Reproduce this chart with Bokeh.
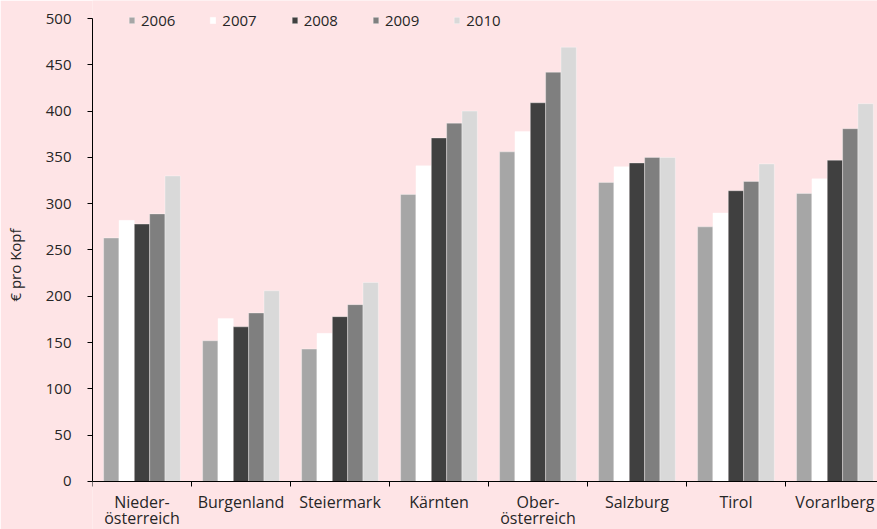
from bokeh.plotting import figure
from bokeh.models import (ColumnDataSource, Range1d, FixedTicker, Legend,
                          LegendItem)
from bokeh.transform import dodge
from bokeh.embed import file_html
from bokeh.resources import INLINE

# Ausgaben je Einwohner nach Bundesland, 2006-2010 (EUR pro Kopf)
regions = ["Nieder-\nösterreich", "Burgenland", "Steiermark", "Kärnten",
           "Ober-\nösterreich", "Salzburg", "Tirol", "Vorarlberg"]
years = ["2006", "2007", "2008", "2009", "2010"]
v2006 = [263, 152, 143, 310, 356, 323, 275, 311]
v2007 = [282, 176, 160, 341, 378, 340, 290, 327]
v2008 = [278, 167, 178, 371, 409, 344, 314, 347]
v2009 = [289, 182, 191, 387, 442, 350, 324, 381]
v2010 = [330, 206, 215, 400, 469, 350, 343, 408]
colors = ["#a6a6a6", "#ffffff", "#404040", "#7f7f7f", "#d9d9d9"]
y_ticks = [0, 50, 100, 150, 200, 250, 300, 350, 400, 450, 500]

FONT = "Open Sans"
BG = "#fee4e6"
TXT = "#262626"

source = ColumnDataSource(dict(
    x=[i + 0.5 for i in range(len(regions))],
    v2006=v2006, v2007=v2007, v2008=v2008, v2009=v2009, v2010=v2010,
))

# the frame fills the page below/above the value axis; the category axis
# sits at y = 0 inside it
p = figure(width=877, height=529, output_backend="svg", toolbar_location=None,
           x_range=Range1d(0, 7.93), y_range=Range1d(-51.84, 519.44),
           min_border_left=92, min_border_right=0, min_border_top=0,
           min_border_bottom=0)
p.background_fill_color = BG
p.border_fill_color = BG
p.outline_line_color = None
p.xgrid.visible = False
p.ygrid.visible = False

bar_w = 0.155
renderers = []
for j, (yr, col) in enumerate(zip(years, colors)):
    r = p.vbar(x=dodge("x", (j - 2) * bar_w, range=p.x_range),
               top="v" + yr, width=bar_w, source=source,
               fill_color=col, line_color="white", line_alpha=0.35,
               line_width=1)
    renderers.append(r)

legend = Legend(items=[LegendItem(label=yr, renderers=[r])
                       for yr, r in zip(years, renderers)],
                orientation="horizontal", location=(36, 499),
                background_fill_alpha=0, border_line_color=None,
                padding=0, margin=0, spacing=34, label_standoff=6,
                glyph_width=7, glyph_height=8, label_height=18,
                label_text_font=FONT, label_text_font_size="15px",
                label_text_color=TXT)
p.add_layout(legend)

# x axis: labels centred on each region, short ticks between regions
xa = p.xaxis[0]
xa.fixed_location = 0
xa.ticker = FixedTicker(ticks=[i + 0.5 for i in range(len(regions))],
                        minor_ticks=list(range(len(regions) + 1)))
xa.major_label_overrides = {i + 0.5: lab for i, lab in enumerate(regions)}
xa.major_tick_out = 0
xa.major_tick_in = 0
xa.minor_tick_out = 5
xa.minor_tick_in = 0
xa.minor_tick_line_color = "black"
xa.axis_line_color = "black"
xa.major_label_standoff = 5
xa.major_label_text_font = FONT
xa.major_label_text_font_size = "16px"
xa.major_label_text_line_height = 0.7
xa.major_label_text_color = TXT

ya = p.yaxis[0]
ya.bounds = (0, 500)
ya.ticker = FixedTicker(ticks=y_ticks)
ya.major_tick_out = 5
ya.major_tick_in = 0
ya.minor_tick_line_color = None
ya.major_tick_line_color = "black"
ya.axis_line_color = "black"
ya.major_label_standoff = 16
ya.major_label_text_font = FONT
ya.major_label_text_font_size = "15px"
ya.major_label_text_color = TXT
ya.axis_label = "€ pro Kopf"
ya.axis_label_standoff = 18
ya.axis_label_text_font = FONT
ya.axis_label_text_font_size = "15px"
ya.axis_label_text_font_style = "normal"
ya.axis_label_text_color = TXT

open("out.html", "w").write(file_html(p, INLINE))
